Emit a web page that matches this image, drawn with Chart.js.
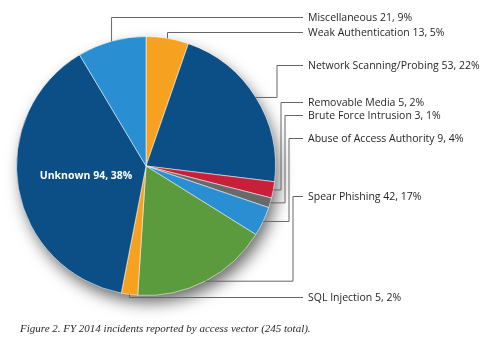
<!DOCTYPE html>
<html><head><meta charset="utf-8">
<script src="https://cdn.jsdelivr.net/npm/chart.js@4/dist/chart.umd.min.js"></script>
<style>html,body{margin:0;padding:0;background:#fff;}#wrap{width:494px;height:346px;position:relative;}</style>
</head><body><div id="wrap"><canvas id="c" width="494" height="346"></canvas></div>
<script>
// ---- data ----
const categories = ['Weak Authentication','Network Scanning/Probing','Removable Media','Brute Force Intrusion','Abuse of Access Authority','Spear Phishing','SQL Injection','Unknown','Miscellaneous'];
const incidents = [13, 53, 5, 3, 9, 42, 5, 94, 21];
const sliceColors = ['#F6A11F','#0C4F86','#C8203A','#67696B','#2A8FD2','#5B9A3D','#F6A11F','#0C4F86','#2A8FD2'];
const captionText = 'Figure 2. FY 2014 incidents reported by access vector (245 total).';

// ---- label layout (positions only) ----
const labelLayout = [
  {y:33, mode:'up'},
  {y:66, mode:'right', col:277},
  {y:103, mode:'right', col:281},
  {y:116, mode:'right', col:285},
  {y:139, mode:'right', col:289},
  {y:197, mode:'right', col:293},
  {y:298, mode:'down'},
  {y:null, mode:'inside'},
  {y:18, mode:'up'}
];
const LINE_END = 303, TEXT_X = 308;

const total = incidents.reduce((a,b)=>a+b,0);
function labelText(i){ return categories[i] + ' ' + incidents[i] + ', ' + Math.round(incidents[i]/total*100) + '%'; }

const shadowPlugin = {
  id:'shadow',
  beforeDatasetsDraw(chart){
    const arc = chart.getDatasetMeta(0).data[0];
    const {x,y,outerRadius} = arc.getProps(['x','y','outerRadius'], true);
    const ctx = chart.ctx;
    ctx.save();
    ctx.shadowColor = 'rgba(0,0,0,0.6)';
    ctx.shadowBlur = 16;
    ctx.shadowOffsetX = 4;
    ctx.shadowOffsetY = 8;
    ctx.beginPath();
    ctx.arc(x, y, outerRadius - 1, 0, Math.PI*2);
    ctx.fillStyle = '#555';
    ctx.fill();
    ctx.restore();
  }
};

const labelPlugin = {
  id:'labels',
  afterDatasetsDraw(chart){
    const ctx = chart.ctx;
    const meta = chart.getDatasetMeta(0);
    ctx.save();
    meta.data.forEach((arc, i) => {
      const p = arc.getProps(['x','y','startAngle','endAngle','outerRadius'], true);
      const mid = (p.startAngle + p.endAngle)/2;
      const R = p.outerRadius;
      const px = p.x + Math.cos(mid)*R, py = p.y + Math.sin(mid)*R;
      const L = labelLayout[i];
      if (L.mode === 'inside') {
        const tx = p.x + Math.cos(mid)*R*0.47, ty = p.y + Math.sin(mid)*R*0.47;
        ctx.font = 'bold 10.5px "Open Sans"';
        ctx.fillStyle = '#ffffff';
        ctx.textAlign = 'center'; ctx.textBaseline = 'middle';
        ctx.fillText(labelText(i), tx, ty);
        return;
      }
      ctx.strokeStyle = '#666666';
      ctx.lineWidth = 1;
      ctx.beginPath();
      if (L.mode === 'up' || L.mode === 'down') {
        ctx.moveTo(px, py);
        ctx.lineTo(px, L.y - 0.5);
        ctx.lineTo(LINE_END, L.y - 0.5);
      } else {
        ctx.moveTo(px, py);
        ctx.lineTo(L.col, py);
        ctx.lineTo(L.col, L.y - 0.5);
        ctx.lineTo(LINE_END, L.y - 0.5);
      }
      ctx.stroke();
      ctx.font = '10.5px "Open Sans"';
      ctx.fillStyle = '#231F20';
      ctx.textAlign = 'left'; ctx.textBaseline = 'middle';
      ctx.fillText(labelText(i), TEXT_X, L.y);
    });
    // caption
    ctx.font = 'italic 11px "Liberation Serif"';
    ctx.fillStyle = '#231F20';
    ctx.textAlign = 'left'; ctx.textBaseline = 'middle';
    ctx.fillText(captionText, 20, 329);
    ctx.restore();
  }
};

new Chart(document.getElementById('c'), {
  type:'pie',
  data:{
    labels: categories,
    datasets:[{
      data: incidents,
      backgroundColor: sliceColors,
      borderColor: 'rgba(255,255,255,0.55)',
      borderWidth: 1
    }]
  },
  options:{
    responsive:false,
    animation:false,
    rotation:0,
    layout:{padding:{left:16, right:218, top:36, bottom:50}},
    plugins:{legend:{display:false}, tooltip:{enabled:false}}
  },
  plugins:[shadowPlugin, labelPlugin]
});
</script>
</body></html>
